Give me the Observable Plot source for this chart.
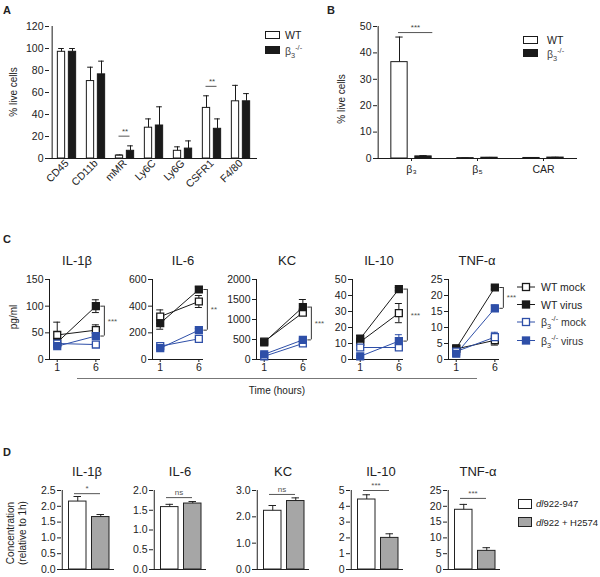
<!DOCTYPE html>
<html><head><meta charset="utf-8">
<script src="https://cdn.jsdelivr.net/npm/d3@7"></script>
<script src="https://cdn.jsdelivr.net/npm/@observablehq/plot@0.6"></script>
<style>
body{margin:0;background:#fff;}
#chart{position:relative;width:600px;height:577px;font-family:"Liberation Sans",Arial,sans-serif;color:#222;overflow:hidden;background:#fff;}
.t{position:absolute;white-space:nowrap;line-height:1;}
.t sub,.t sup{font-size:70%;line-height:0;}
</style></head><body><div id="chart"></div>
<script>
// ---------- Panel A ----------
const aCats = ["CD45","CD11b","mMR","Ly6C","Ly6G","CSFR1","F4/80"];
const aWT    = [97, 70.4, 2.7, 28, 7, 46, 52];
const aWTerr = [3, 12.6, 0.5, 8, 3.6, 11, 14.5];
const aKO    = [97, 76.5, 7, 30, 9, 27, 52];
const aKOerr = [3, 12, 4.5, 17, 7, 9, 7];
const aTicks = [0,20,40,60,80,100,120];
const aSigCats = ["mMR","CSFR1"];
const aSigY = [20.3, 65.6];
const aSigLabel = ["**","**"];

// ---------- Panel B ----------
const bCats = ["β₃","β₅","CAR"];
const bWT    = [36.5, 0.15, 0.2];
const bWTerr = [9.5, 0.05, 0.05];
const bKO    = [0.8, 0.3, 0.35];
const bKOerr = [0.3, 0.1, 0.1];
const bTicks = [0,10,20,30,40,50];
const bSigCats = ["β₃"];
const bSigY = [47.7];
const bSigLabel = ["***"];

// ---------- Panel C ----------
const cTimes = [1, 6];
const cCyto = ["IL-1β","IL-6","KC","IL-10","TNF-α"];
const cWTmock      = [[46,55],[322,435],[450,1170],[11,29],[3.3,6]];
const cWTmockErr   = [[24,10],[50,45],[30,60],[1,6],[0.5,1.5]];
const cWTvirus     = [[32,100],[272,525],[430,1310],[13,44],[3.5,22.5]];
const cWTvirusErr  = [[3,12],[45,20],[30,190],[2,1],[0.5,0.5]];
const cKOmock      = [[30,28],[100,155],[80,400],[7.5,7.5],[2.5,7]];
const cKOmockErr   = [[3,3],[10,10],[15,40],[1,1],[1.5,1.5]];
const cKOvirus     = [[25,44],[85,220],[130,490],[2,11.5],[1.8,16]];
const cKOvirusErr  = [[2,4],[8,12],[20,40],[0.5,4],[0.5,1]];
const cTicks = [[0,50,100,150],[0,200,400,600],[0,500,1000,1500,2000],[0,10,20,30,40,50],[0,5,10,15,20,25]];
const cSig = ["***","**","***","***","***"];
const cSeriesNames = ["WT mock","WT virus","β<sub>3</sub><sup>-/-</sup> mock","β<sub>3</sub><sup>-/-</sup> virus"];

// ---------- Panel D ----------
const dCyto = ["IL-1β","IL-6","KC","IL-10","TNF-α"];
const dA    = [2.15, 1.58, 2.23, 4.43, 18.9];   // dl922-947
const dAerr = [0.16, 0.07, 0.2, 0.3, 1.7];
const dB    = [1.66, 1.67, 2.6, 2.0, 5.9];      // dl922 + H2574
const dBerr = [0.08, 0.05, 0.12, 0.26, 1.0];
const dTicks = [[0,0.5,1,1.5,2,2.5],[0,0.5,1,1.5,2],[0,1,2,3],[0,1,2,3,4,5],[0,5,10,15,20,25]];
const dFmt = [".1f",".1f",".1f","d","d"];
const dSig = ["*","ns","ns","***","***"];
const dSigY = [2.4, 1.82, 2.85, 5.0, 22.5];

// ---------- helpers ----------
const root = document.getElementById("chart");
const INK = "#1a1a1a", BLUE = "#2e4fa8", GREY = "#a6a6a6";
const baseStyle = {background:"transparent", fontFamily:"Liberation Sans, Arial, sans-serif", fontSize:"10.5px", color:"#222", overflow:"visible"};
function place(node, left, top){ node.style.position="absolute"; node.style.left=left+"px"; node.style.top=top+"px"; root.appendChild(node); }
function label(html, x, y, o={}){
  const {size=10, anchor="start", weight="normal", rotate=0, color="#222"} = o;
  const d = document.createElement("div"); d.className="t"; d.innerHTML = html;
  d.style.fontSize = size+"px"; d.style.fontWeight = weight; d.style.color = color;
  d.style.left = x+"px"; d.style.top = y+"px";
  const tx = rotate ? "-50%" : anchor==="middle" ? "-50%" : anchor==="end" ? "-100%" : "0";
  d.style.transform = `translate(${tx},-50%)` + (rotate ? ` rotate(${rotate}deg)` : "");
  root.appendChild(d);
}
function svgBox(html, left, top, w, h){
  const d = document.createElement("div"); d.style.position="absolute"; d.style.left=left+"px"; d.style.top=top+"px";
  d.innerHTML = `<svg width="${w}" height="${h}">${html}</svg>`; root.appendChild(d);
}

// ---------- grouped bar panel (A, B) ----------
function groupedBars(cfg){
  const {cats, wtV, wtE, koV, koE, ticks, sigCats, sigY, sigLab, W, H, ml, mr, mt, mb, off, bw, capW, sigInL, sigInR, sigDx, tickRotate, tickSize, left, top} = cfg;
  const step = (W-ml-mr)/cats.length, half = step/2;
  const wt = cats.map((c,i)=>({c, v:wtV[i], e:wtE[i]}));
  const ko = cats.map((c,i)=>({c, v:koV[i], e:koE[i]}));
  const sig = sigCats.map((c,i)=>({c, y:sigY[i], s:sigLab[i]}));
  const inA = half-off-bw/2, inB = half+off-bw/2;
  const p = Plot.plot({
    width:W, height:H, marginLeft:ml, marginRight:mr, marginTop:mt, marginBottom:mb, style:baseStyle,
    x:{domain:cats, padding:0, label:null, tickRotate, tickSize, tickPadding: tickRotate ? 3 : 4},
    y:{domain:[0, ticks[ticks.length-1]], ticks, label:null, tickSize:4, tickPadding:2},
    marks:[
      Plot.barY(wt, {x:"c", y:"v", fill:"white", stroke:INK, strokeWidth:1, insetLeft:inA, insetRight:inB}),
      Plot.barY(ko, {x:"c", y:"v", fill:INK, stroke:INK, strokeWidth:1, insetLeft:inB, insetRight:inA}),
      Plot.ruleX(wt, {x:"c", y1:"v", y2:d=>d.v+d.e, dx:-off, stroke:INK}),
      Plot.ruleY(wt, {x1:"c", x2:"c", y:d=>d.v+d.e, insetLeft:half-off-capW, insetRight:half+off-capW, stroke:INK}),
      Plot.ruleX(ko, {x:"c", y1:"v", y2:d=>d.v+d.e, dx:off, stroke:INK}),
      Plot.ruleY(ko, {x1:"c", x2:"c", y:d=>d.v+d.e, insetLeft:half+off-capW, insetRight:half-off-capW, stroke:INK}),
      Plot.ruleY(sig, {x1:"c", x2:"c", y:"y", insetLeft:sigInL, insetRight:sigInR, stroke:"#555"}),
      Plot.text(sig, {x:"c", y:"y", text:"s", dy:-5, dx:sigDx, fontSize:8, fill:"#444"}),
      Plot.ruleX([cats[0]], {x:d=>d, dx:-half, stroke:INK}),
      Plot.ruleY([0], {stroke:INK})
    ]
  });
  place(p, left, top);
}

groupedBars({cats:aCats, wtV:aWT, wtE:aWTerr, koV:aKO, koE:aKOerr, ticks:aTicks, sigCats:aSigCats, sigY:aSigY, sigLab:aSigLabel,
  W:300, H:192, ml:49, mr:43, mt:26, mb:34, off:5.5, bw:8, capW:3.2, sigInL:8.5, sigInR:9.5, sigDx:0, tickRotate:-45, tickSize:0, left:0, top:0});
groupedBars({cats:bCats, wtV:bWT, wtE:bWTerr, koV:bKO, koE:bKOerr, ticks:bTicks, sigCats:bSigCats, sigY:bSigY, sigLab:bSigLabel,
  W:300, H:192, ml:77, mr:23, mt:26, mb:34, off:12, bw:17, capW:4, sigInL:20, sigInR:11.7, sigDx:4, tickRotate:0, tickSize:3, left:300, top:0});

// axis titles / legends A,B
label("A", 3, 10, {size:11, weight:"bold"});
label("B", 327, 10, {size:11, weight:"bold"});
label("% live cells", 14, 92, {rotate:-90});
label("% live cells", 342, 99, {rotate:-90});
svgBox(`<rect x="0.5" y="0.5" width="14" height="7" fill="white" stroke="${INK}"/><rect x="0.5" y="15.5" width="14" height="7" fill="${INK}" stroke="${INK}"/>`, 265, 31, 16, 24);
label("WT", 285, 35, {size:10.5});
label("β<sub>3</sub><sup>-/-</sup>", 285, 51, {size:10.5, color:"#444"});
svgBox(`<rect x="0.5" y="0.5" width="14" height="7" fill="white" stroke="${INK}"/><rect x="0.5" y="13.5" width="14" height="7" fill="${INK}" stroke="${INK}"/>`, 523, 36, 16, 22);
label("WT", 547, 40, {size:10.5});
label("β<sub>3</sub><sup>-/-</sup>", 547, 54, {size:10.5, color:"#444"});

// ---------- Panel C ----------
const cAxes = [49,152,256,352,448];
const cTitleX = [77,183,287,379,477];
cCyto.forEach((name,k)=>{
  const ml=45, plotW=51, mr=30, W=ml+plotW+mr, H=110, mt=11, mb=19;
  const defs = [
    {vals:cWTmock[k],  errs:cWTmockErr[k],  stroke:INK,  fill:"white"},
    {vals:cWTvirus[k], errs:cWTvirusErr[k], stroke:INK,  fill:INK},
    {vals:cKOmock[k],  errs:cKOmockErr[k],  stroke:BLUE, fill:"white"},
    {vals:cKOvirus[k], errs:cKOvirusErr[k], stroke:BLUE, fill:BLUE}
  ];
  const pts = defs.flatMap((s,si)=>cTimes.map((t,ti)=>({s:si, t, v:s.vals[ti], e:s.errs[ti], stroke:s.stroke, fill:s.fill})));
  const top = cWTvirus[k][1], bot = cKOvirus[k][1];
  const br = [{t:6, y1:bot, y2:top, m:(top+bot)/2, s:cSig[k]}];
  const brEnds = [{t:6, y:top},{t:6, y:bot}];
  const ticks = cTicks[k];
  const marks = [
    Plot.ruleX([0], {stroke:INK}),
    Plot.ruleY([0], {stroke:INK}),
    Plot.line(pts, {x:"t", y:"v", z:"s", stroke:"stroke", strokeWidth:1}),
    Plot.ruleX(pts, {x:"t", y1:d=>d.v-d.e, y2:d=>d.v+d.e, stroke:"stroke", strokeWidth:1}),
    Plot.ruleY(pts, {x1:"t", x2:"t", y:d=>d.v+d.e, insetLeft:-3.5, insetRight:-3.5, stroke:"stroke"}),
    Plot.ruleY(pts, {x1:"t", x2:"t", y:d=>d.v-d.e, insetLeft:-3.5, insetRight:-3.5, stroke:"stroke"}),
    Plot.dot(pts, {x:"t", y:"v", symbol:"square", r:3.9, fill:"fill", stroke:"stroke", strokeWidth:1.3}),
    Plot.ruleX(br, {x:"t", y1:"y1", y2:"y2", dx:8.5, stroke:"#333"}),
    Plot.ruleY(brEnds, {x1:"t", x2:"t", y:"y", insetLeft:5, insetRight:-8.5, stroke:"#333"}),
    Plot.text(br, {x:"t", y:"m", text:"s", dx:12, textAnchor:"start", fontSize:8, fill:"#555"})
  ];
  const p = Plot.plot({
    width:W, height:H, marginLeft:ml, marginRight:mr, marginTop:mt, marginBottom:mb, style:baseStyle,
    x:{domain:[0,6.6], ticks:cTimes, label:null, tickSize:3, tickPadding:1, tickFormat:"d"},
    y:{domain:[0, ticks[ticks.length-1]], ticks, label:null, tickSize:4, tickPadding:2, tickFormat:"d"},
    marks
  });
  place(p, cAxes[k]-ml, 268);
  label(name, cTitleX[k], 260, {size:13, anchor:"middle"});
});
label("C", 3, 239, {size:11, weight:"bold"});
label("pg/ml", 14, 317, {rotate:-90});
{
  const d = document.createElement("div");
  d.style.cssText = "position:absolute;left:77px;top:378px;width:400px;height:0;border-top:1px solid #777;";
  root.appendChild(d);
}
label("Time (hours)", 277, 391, {anchor:"middle"});
// legend C
{
  const rows = [287, 304.5, 322, 340.5];
  const sty = [[INK,"white"],[INK,INK],[BLUE,"white"],[BLUE,BLUE]];
  let html = "";
  rows.forEach((y,i)=>{
    const yy = y-280;
    html += `<line x1="0" x2="18" y1="${yy}" y2="${yy}" stroke="${sty[i][0]}"/>`;
    html += `<rect x="5.5" y="${yy-3.5}" width="7" height="7" fill="${sty[i][1]}" stroke="${sty[i][0]}" stroke-width="1.3"/>`;
  });
  svgBox(html, 517, 280, 20, 70);
  rows.forEach((y,i)=>label(cSeriesNames[i], 541, y, {size:10.5, color: i>1 ? "#333" : "#222"}));
}

// ---------- Panel D ----------
const dAxes = [61,153,256,350,447];
const dTitleX = [87,180,283,381,478];
const dInset = [[6.5,2],[3.5,5]];
dCyto.forEach((name,k)=>{
  const ml=40, plotW=53, mr=10, W=ml+plotW+mr, H=95, mt=8, mb=8;
  const step = plotW/2;
  const bars = [{g:"a", v:dA[k], e:dAerr[k], f:"white", i:0},{g:"b", v:dB[k], e:dBerr[k], f:GREY, i:1}];
  const marks = [];
  bars.forEach(b=>{
    const [iL,iR] = dInset[b.i];
    const bw = step-iL-iR, c = (iL-iR)/2;
    marks.push(
      Plot.barY([b], {x:"g", y:"v", fill:b.f, stroke:"#222", strokeWidth:1, insetLeft:iL, insetRight:iR}),
      Plot.ruleX([b], {x:"g", y1:"v", y2:d=>d.v+d.e, dx:c, stroke:"#222"}),
      Plot.ruleY([b], {x1:"g", x2:"g", y:d=>d.v+d.e, insetLeft:iL+bw/2-4, insetRight:iR+bw/2-4, stroke:"#222"})
    );
  });
  const sig = [{y:dSigY[k], s:dSig[k]}];
  marks.push(
    Plot.ruleY(sig, {x1:()=>"a", x2:()=>"b", y:"y", insetLeft:12, insetRight:14, stroke:"#555"}),
    Plot.text(sig, {y:"y", text:"s", dy:-5, dx:-1, fontSize:8, fill:"#555"}),
    Plot.ruleX(["a"], {x:d=>d, dx:-step/2, stroke:"#222"}),
    Plot.ruleY([0], {stroke:"#222"})
  );
  const ticks = dTicks[k];
  const p = Plot.plot({
    width:W, height:H, marginLeft:ml, marginRight:mr, marginTop:mt, marginBottom:mb, style:baseStyle,
    x:{domain:["a","b"], padding:0, axis:null},
    y:{domain:[0, ticks[ticks.length-1]], ticks, tickFormat:dFmt[k], label:null, tickSize:4, tickPadding:2},
    marks
  });
  place(p, dAxes[k]-ml, 482);
  label(name, dTitleX[k], 471, {size:13, anchor:"middle"});
});
label("D", 3, 452, {size:11, weight:"bold"});
label("Concentration", 11, 533, {rotate:-90});
label("(relative to 1h)", 23, 533, {rotate:-90});
svgBox(`<rect x="0.5" y="0.5" width="13" height="9" fill="white" stroke="#222"/><rect x="0.5" y="18.5" width="13" height="9" fill="${GREY}" stroke="#222"/>`, 518, 499, 15, 30);
label("<i>dl</i>922-947", 536, 504, {size:9.5});
label("<i>dl</i>922 + H2574", 536, 523, {size:9.5});
</script></body></html>
